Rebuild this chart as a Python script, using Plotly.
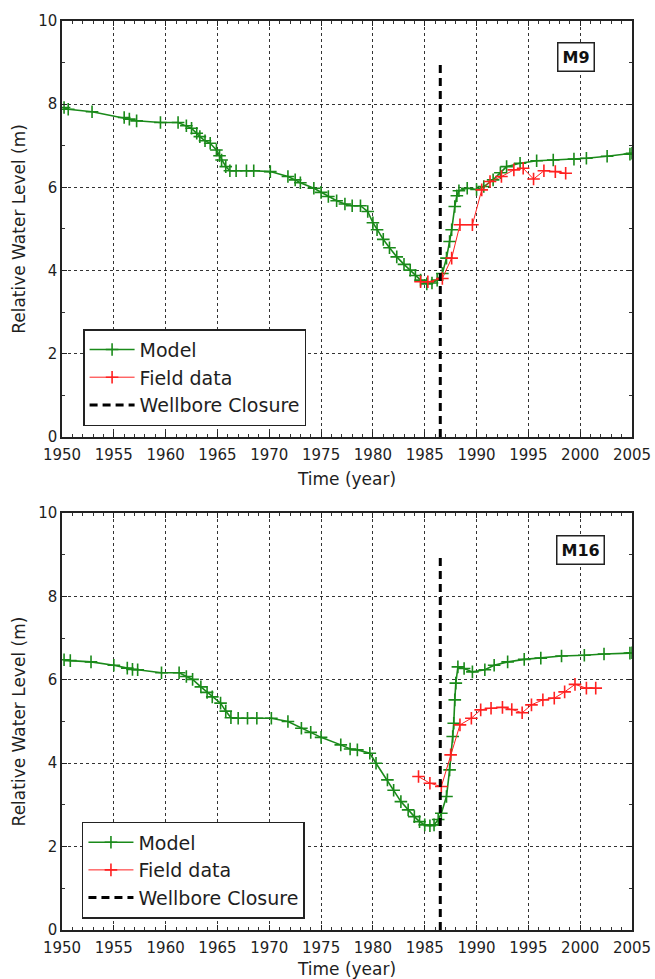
import plotly.graph_objects as go
from plotly.subplots import make_subplots

# ---- Well M9 ----
m9_model_year = [1950.2, 1950.6, 1952.9, 1956.0, 1956.5, 1957.2, 1959.5, 1961.2, 1962.0, 1962.5,
                 1963.0, 1963.3, 1963.8, 1964.3, 1964.9, 1965.2, 1965.4, 1965.8, 1966.2, 1966.8,
                 1967.8, 1968.5, 1970.1, 1971.8, 1972.5, 1973.0, 1974.3, 1975.0, 1975.7, 1976.5,
                 1977.3, 1978.0, 1978.8, 1979.5, 1980.0, 1980.4, 1981.0, 1981.6, 1982.3, 1983.0,
                 1983.6, 1984.1, 1984.6, 1985.2, 1985.7, 1986.2, 1986.7, 1987.1, 1987.4, 1987.6,
                 1987.9, 1988.1, 1988.3, 1989.1, 1990.0, 1990.7, 1991.6, 1992.3, 1992.9, 1994.2,
                 1995.8, 1997.4, 1999.4, 2000.6, 2002.6, 2004.8, 2005.0]
m9_model_level = [7.92, 7.88, 7.82, 7.68, 7.64, 7.60, 7.56, 7.56, 7.48, 7.42,
                  7.30, 7.22, 7.12, 7.06, 6.90, 6.76, 6.66, 6.50, 6.40, 6.40,
                  6.40, 6.40, 6.38, 6.26, 6.18, 6.11, 5.98, 5.88, 5.78, 5.68,
                  5.60, 5.56, 5.56, 5.42, 5.15, 4.98, 4.75, 4.55, 4.33, 4.15,
                  4.01, 3.88, 3.77, 3.68, 3.70, 3.77, 3.93, 4.30, 4.70, 4.98,
                  5.54, 5.80, 5.92, 5.98, 5.95, 6.02, 6.18, 6.35, 6.50, 6.58,
                  6.64, 6.66, 6.68, 6.70, 6.75, 6.80, 6.82]
m9_field_year = [1984.6, 1985.3, 1986.7, 1987.6, 1988.4, 1989.6, 1990.5, 1991.3, 1992.4,
                 1993.6, 1994.5, 1995.5, 1996.5, 1997.6, 1998.6]
m9_field_level = [3.73, 3.73, 3.81, 4.30, 5.10, 5.10, 5.94, 6.14, 6.26,
                  6.42, 6.46, 6.20, 6.40, 6.38, 6.34]

# ---- Well M16 ----
m16_model_year = [1950.2, 1950.8, 1952.8, 1955.0, 1956.3, 1956.8, 1957.3, 1959.6, 1961.3, 1962.0,
                  1962.6, 1963.4, 1964.0, 1964.5, 1965.3, 1965.8, 1966.3, 1967.0, 1967.9, 1968.8,
                  1970.2, 1971.8, 1973.1, 1974.0, 1975.0, 1976.9, 1977.8, 1978.5, 1979.7, 1980.3,
                  1981.4, 1982.0, 1982.7, 1983.4, 1984.0, 1984.5, 1985.0, 1985.5, 1985.9, 1986.3,
                  1986.6, 1987.1, 1987.4, 1987.7, 1987.8, 1987.9, 1988.0, 1988.2, 1988.8, 1989.6,
                  1990.8, 1991.7, 1993.0, 1994.6, 1996.2, 1998.2, 2000.4, 2002.3, 2004.8, 2005.0]
m16_model_level = [6.48, 6.46, 6.43, 6.35, 6.28, 6.25, 6.24, 6.17, 6.17, 6.08,
                   6.01, 5.83, 5.70, 5.59, 5.44, 5.25, 5.09, 5.08, 5.08, 5.08,
                   5.08, 5.00, 4.84, 4.74, 4.62, 4.44, 4.34, 4.32, 4.24, 4.00,
                   3.60, 3.35, 3.08, 2.88, 2.72, 2.60, 2.52, 2.50, 2.52, 2.65,
                   2.80, 3.20, 3.84, 4.64, 4.96, 5.52, 5.92, 6.31, 6.27, 6.19,
                   6.24, 6.35, 6.43, 6.49, 6.52, 6.57, 6.59, 6.62, 6.64, 6.65]
m16_field_year = [1984.4, 1985.5, 1986.6, 1987.5, 1988.4, 1989.5, 1990.4, 1991.4, 1992.5,
                  1993.4, 1994.4, 1995.3, 1996.4, 1997.5, 1998.5, 1999.5, 2000.6, 2001.5]
m16_field_level = [3.68, 3.52, 3.44, 4.20, 4.92, 5.08, 5.28, 5.32, 5.34,
                   5.29, 5.21, 5.40, 5.52, 5.56, 5.71, 5.89, 5.80, 5.80]

# Wellbore closure marker line
closure_year = [1986.5, 1986.5]
closure_level = [0, 9]

well_names = ["M9", "M16"]

GREEN = "#1a8a1a"
RED = "#ff2020"
FONT = "DejaVu Sans"
TXT = "#1e1e1e"

fig = make_subplots(rows=2, cols=1)

panels = [
    (m9_model_year, m9_model_level, m9_field_year, m9_field_level, "legend"),
    (m16_model_year, m16_model_level, m16_field_year, m16_field_level, "legend2"),
]

for i, (my, ml, fy, fl, leg) in enumerate(panels, start=1):
    fig.add_trace(go.Scatter(
        x=my, y=ml, mode="lines+markers", name="Model", legend=leg,
        line=dict(color=GREEN, width=1.6),
        marker=dict(symbol="cross-thin", size=9, line=dict(color=GREEN, width=1.6)),
    ), row=i, col=1)
    fig.add_trace(go.Scatter(
        x=fy, y=fl, mode="lines+markers", name="Field data", legend=leg,
        line=dict(color=RED, width=1),
        marker=dict(symbol="cross-thin", size=9, line=dict(color=RED, width=1.6)),
    ), row=i, col=1)
    fig.add_trace(go.Scatter(
        x=closure_year, y=closure_level, mode="lines", name="Wellbore Closure", legend=leg,
        line=dict(color="black", width=3, dash="8px,5px"),
    ), row=i, col=1)

axis_common = dict(
    showline=True, linecolor="#222", linewidth=1.5, mirror="allticks",
    ticks="inside", ticklen=5, tickcolor="#222",
    showgrid=True, gridcolor="#333", griddash="dot", gridwidth=1,
    zeroline=False, automargin=False,
    tickfont=dict(family=FONT, size=15, color=TXT),
)

for i in (1, 2):
    fig.update_xaxes(
        range=[1950, 2005], tick0=1950, dtick=5, ticklabelstandoff=3,
        minor=dict(dtick=1, ticks="inside", ticklen=3, tickcolor="#333", showgrid=False),
        title=dict(text="Time (year)", font=dict(family=FONT, size=17, color=TXT), standoff=10),
        **axis_common, row=i, col=1)
    fig.update_yaxes(
        range=[0, 10], tick0=0, dtick=2,
        minor=dict(dtick=1, ticks="inside", ticklen=3, tickcolor="#333", showgrid=False),
        title=dict(text="Relative Water Level (m)", font=dict(family=FONT, size=17, color=TXT), standoff=8),
        **axis_common, row=i, col=1)

fig.update_layout(
    xaxis=dict(domain=[0, 1]), xaxis2=dict(domain=[0, 1]),
    yaxis=dict(domain=[0.5424, 1.0]), yaxis2=dict(domain=[0.0, 0.4587]),
)

legend_style = dict(
    bgcolor="white", bordercolor="#222", borderwidth=1.5,
    font=dict(family=FONT, size=19, color=TXT),
    xanchor="left", yanchor="top", itemwidth=45, tracegroupgap=0,
)
fig.update_layout(
    legend=dict(x=0.037, y=0.661, **legend_style),
    legend2=dict(x=0.035, y=0.119, **legend_style),
)

box_pos = [(0.901, 0.913), (0.909, 0.911)]
for i, name in enumerate(well_names):
    suffix = "" if i == 0 else "2"
    bx, by = box_pos[i]
    fig.add_annotation(
        text="<b>%s</b>" % name, x=bx, y=by, xanchor="center", yanchor="middle",
        xref="x%s domain" % suffix, yref="y%s domain" % suffix,
        showarrow=False, font=dict(family=FONT, size=16, color="#111"),
        bordercolor="#222", borderwidth=1.5, borderpad=4, bgcolor="white",
    )

fig.update_layout(
    width=655, height=979,
    margin=dict(l=62, r=23, t=21, b=49),
    plot_bgcolor="white", paper_bgcolor="white",
    showlegend=True,
)

fig.write_html("out.html")
